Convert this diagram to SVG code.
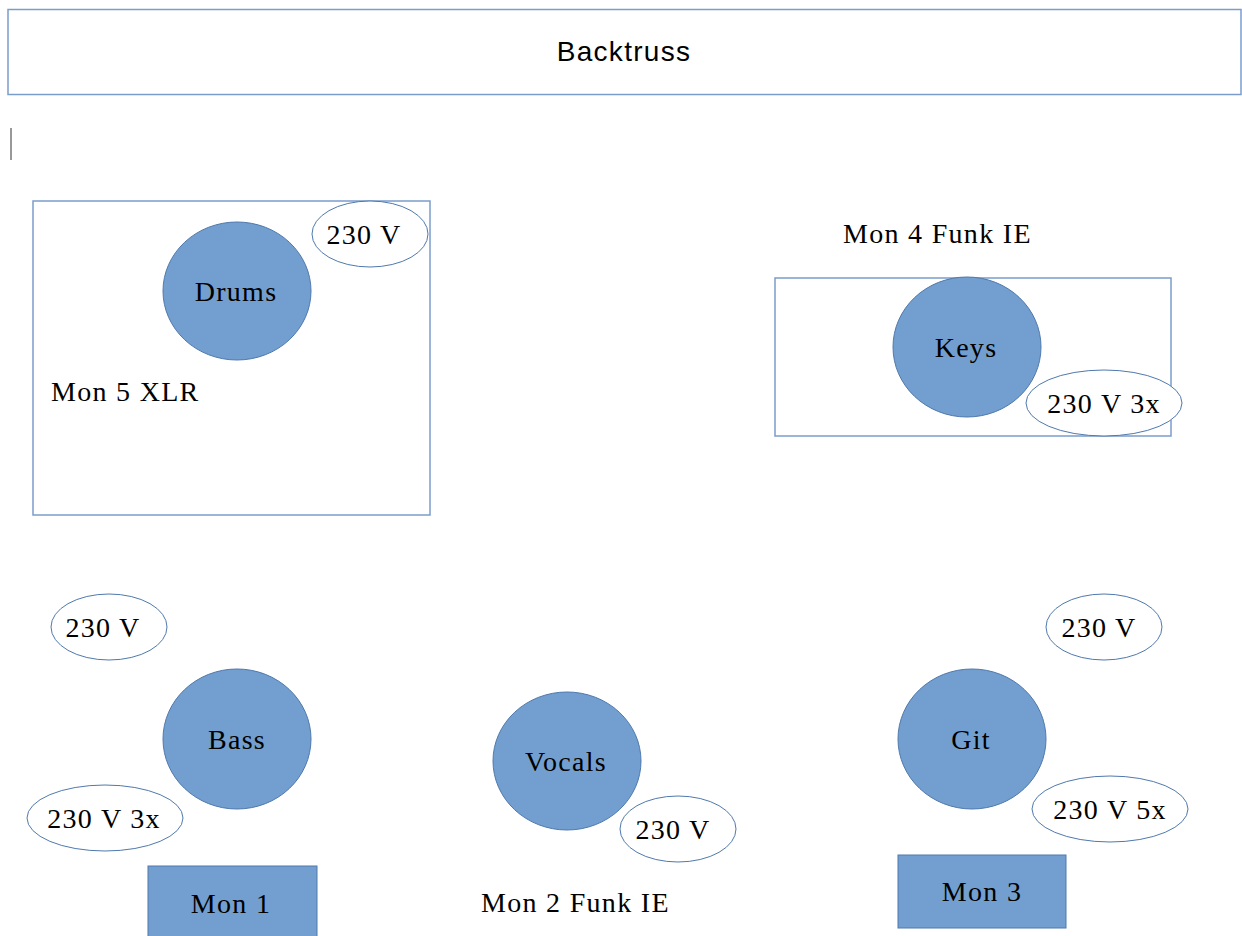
<svg xmlns="http://www.w3.org/2000/svg" width="1242" height="936" viewBox="0 0 1242 936">
  <style>
    .frame { fill: #ffffff; stroke: #7b9dcc; stroke-width: 1.5; }
    .player { fill: #729fcf; stroke: #4f79ad; stroke-width: 1; }
    .power { fill: #ffffff; stroke: #4f79ad; stroke-width: 1; }
    .mon { fill: #729fcf; stroke: #4f79ad; stroke-width: 1; }
    .serif { font-family: "Liberation Serif", "Times New Roman", serif; font-size: 28px; letter-spacing: 1.3px; fill: #000000; }
    .sans { font-family: "Liberation Sans", Arial, sans-serif; font-size: 28px; letter-spacing: 1.3px; fill: #000000; }
    .mid { text-anchor: middle; }
  </style>
  <rect width="1242" height="936" fill="#ffffff"/>

  <!-- back truss -->
  <g id="backtruss">
    <rect class="frame" x="8" y="9.5" width="1233" height="85"/>
    <text class="sans mid" x="624" y="61">Backtruss</text>
  </g>

  <!-- text cursor -->
  <line x1="11" y1="128" x2="11" y2="160" stroke="#333333" stroke-width="1"/>

  <!-- drum riser -->
  <g id="drums-area">
    <rect class="frame" x="33" y="201" width="397" height="314"/>
    <g id="drums">
      <ellipse class="player" cx="237" cy="291" rx="74" ry="69"/>
      <text class="serif mid" x="236" y="301">Drums</text>
    </g>
    <g id="drums-power">
      <ellipse class="power" cx="370" cy="234" rx="58" ry="33"/>
      <text class="serif mid" x="364" y="244">230 V</text>
    </g>
    <text id="mon5" class="serif" x="51" y="401">Mon 5 XLR</text>
  </g>

  <!-- keys riser -->
  <text id="mon4" class="serif" x="843" y="243">Mon 4 Funk IE</text>
  <g id="keys-area">
    <rect class="frame" x="775" y="278" width="396" height="158"/>
    <g id="keys">
      <ellipse class="player" cx="967" cy="347" rx="74" ry="70"/>
      <text class="serif mid" x="966" y="357">Keys</text>
    </g>
    <g id="keys-power">
      <ellipse class="power" cx="1104" cy="403" rx="78" ry="33"/>
      <text class="serif mid" x="1104" y="413">230 V 3x</text>
    </g>
  </g>

  <!-- bass -->
  <g id="bass-power-a">
    <ellipse class="power" cx="109" cy="627" rx="58" ry="33"/>
    <text class="serif mid" x="103" y="637">230 V</text>
  </g>
  <g id="bass">
    <ellipse class="player" cx="237" cy="739" rx="74" ry="70"/>
    <text class="serif mid" x="237" y="749">Bass</text>
  </g>
  <g id="bass-power-b">
    <ellipse class="power" cx="105" cy="818" rx="78" ry="33"/>
    <text class="serif mid" x="104" y="828">230 V 3x</text>
  </g>
  <g id="mon1">
    <rect class="mon" x="148" y="866" width="169" height="75"/>
    <text class="serif mid" x="231" y="913">Mon 1</text>
  </g>

  <!-- vocals -->
  <g id="vocals">
    <ellipse class="player" cx="567" cy="761" rx="74" ry="69"/>
    <text class="serif mid" x="566" y="771">Vocals</text>
  </g>
  <g id="vocals-power">
    <ellipse class="power" cx="678" cy="829" rx="58" ry="33"/>
    <text class="serif mid" x="673" y="839">230 V</text>
  </g>
  <text id="mon2" class="serif" x="481" y="912">Mon 2 Funk IE</text>

  <!-- guitar -->
  <g id="git-power-a">
    <ellipse class="power" cx="1104" cy="627" rx="58" ry="33"/>
    <text class="serif mid" x="1099" y="637">230 V</text>
  </g>
  <g id="git">
    <ellipse class="player" cx="972" cy="739" rx="74" ry="70"/>
    <text class="serif mid" x="971" y="749">Git</text>
  </g>
  <g id="git-power-b">
    <ellipse class="power" cx="1110" cy="809" rx="78" ry="33"/>
    <text class="serif mid" x="1110" y="819">230 V 5x</text>
  </g>
  <g id="mon3">
    <rect class="mon" x="898" y="855" width="168" height="73"/>
    <text class="serif mid" x="982" y="901">Mon 3</text>
  </g>
</svg>
